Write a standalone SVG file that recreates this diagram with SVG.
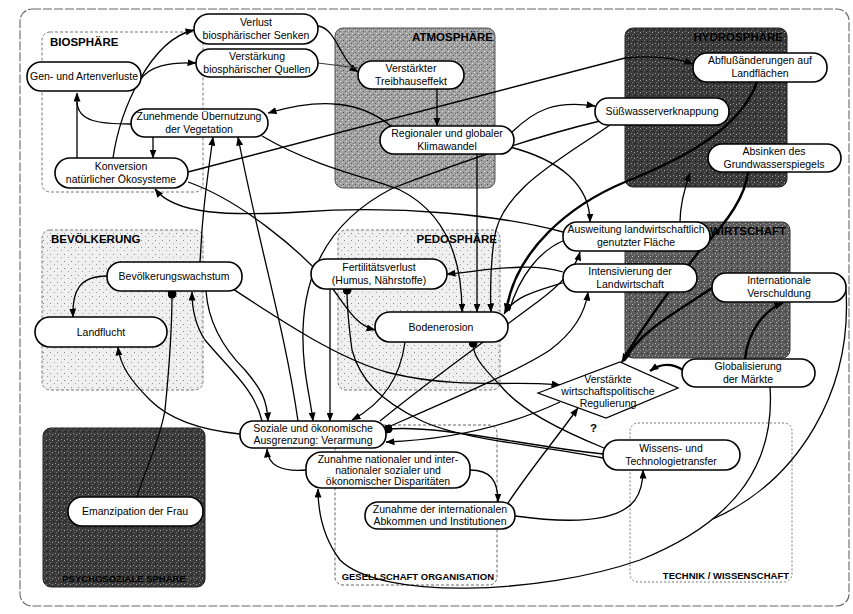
<svg xmlns="http://www.w3.org/2000/svg" width="853" height="614" viewBox="0 0 853 614">
<defs>
<style>
.node{fill:#fff;stroke:#000;stroke-width:1.6}
.t{font-family:"Liberation Sans",Arial,sans-serif;font-size:10.5px;fill:#000;text-anchor:middle}
.lbl{font-family:"Liberation Sans",Arial,sans-serif;font-size:11.5px;font-weight:bold;fill:#000}
.lbls{font-family:"Liberation Sans",Arial,sans-serif;font-size:9.5px;font-weight:bold;fill:#000}
.c{fill:none;stroke:#000;stroke-width:1.3}
.a{marker-end:url(#ah)}
.d{marker-end:url(#dot)}
.thick{stroke-width:2.4}
.thin{stroke-width:1;stroke:#333}
</style>
<marker id="ah" viewBox="0 0 9 7" refX="8.5" refY="3.5" markerWidth="9" markerHeight="7" markerUnits="userSpaceOnUse" orient="auto"><path d="M0,0 L9,3.5 L0,7 z" fill="#000"/></marker>
<marker id="dot" viewBox="0 0 10 10" refX="5" refY="5" markerWidth="9" markerHeight="9" markerUnits="userSpaceOnUse" orient="auto"><circle cx="5" cy="5" r="5" fill="#000"/></marker>
<pattern id="pLight" width="7" height="7" patternUnits="userSpaceOnUse"><rect width="7" height="7" fill="#efefef"/><rect x="1" y="2" width="1" height="1" fill="#8a8a8a"/><rect x="5" y="5" width="1" height="1" fill="#a0a0a0"/></pattern>
<pattern id="pAtm" width="6" height="6" patternUnits="userSpaceOnUse"><rect width="6" height="6" fill="#a2a2a2"/><rect x="0" y="0" width="1" height="1" fill="#e0e0e0"/><rect x="3" y="1" width="1" height="1" fill="#5a5a5a"/><rect x="1" y="4" width="1" height="1" fill="#505050"/><rect x="4" y="3" width="1" height="1" fill="#dcdcdc"/><rect x="5" y="5" width="1" height="1" fill="#707070"/></pattern>
<pattern id="pDark" width="6" height="6" patternUnits="userSpaceOnUse"><rect width="6" height="6" fill="#3a3a3a"/><rect x="1" y="1" width="1" height="1" fill="#8c8c8c"/><rect x="4" y="2" width="1" height="1" fill="#a8a8a8"/><rect x="2" y="4" width="1" height="1" fill="#777"/><rect x="5" y="5" width="1" height="1" fill="#1a1a1a"/></pattern>
<pattern id="pMid" width="6" height="6" patternUnits="userSpaceOnUse"><rect width="6" height="6" fill="#5a5a5a"/><rect x="1" y="1" width="1" height="1" fill="#b0b0b0"/><rect x="4" y="2" width="1" height="1" fill="#9a9a9a"/><rect x="2" y="4" width="1" height="1" fill="#c0c0c0"/><rect x="5" y="5" width="1" height="1" fill="#2a2a2a"/></pattern>
</defs>

<rect width="853" height="614" fill="#fff"/>
<rect x="20" y="9" width="829" height="597" rx="12" fill="none" stroke="#666" stroke-width="1.1" stroke-dasharray="9 2"/>

<g id="spheres">
<g id="biosphaere"><rect x="42" y="32" width="161" height="160" rx="8" fill="#fff" stroke="#777" stroke-width="1" stroke-dasharray="3 2"/><text class="lbl" x="50" y="46">BIOSPHÄRE</text></g>
<g id="atmosphaere"><rect x="335" y="28" width="160" height="160" rx="8" fill="url(#pAtm)" stroke="#555" stroke-width="1"/><text class="lbl" x="493" y="41" text-anchor="end">ATMOSPHÄRE</text></g>
<g id="hydrosphaere"><rect x="625" y="28" width="162" height="159" rx="8" fill="url(#pDark)" stroke="#222" stroke-width="1"/><text class="lbl" x="783" y="41" text-anchor="end" fill="#1e1e1e">HYDROSPHÄRE</text></g>
<g id="bevoelkerung"><rect x="42" y="230" width="161" height="160" rx="8" fill="url(#pLight)" stroke="#777" stroke-width="1" stroke-dasharray="3 2"/><text class="lbl" x="51" y="243">BEVÖLKERUNG</text></g>
<g id="pedosphaere"><rect x="338" y="230" width="162" height="160" rx="8" fill="url(#pLight)" stroke="#777" stroke-width="1" stroke-dasharray="3 2"/><text class="lbl" x="497" y="243" text-anchor="end">PEDOSPHÄRE</text></g>
<g id="wirtschaft"><rect x="625" y="222" width="165" height="136" rx="8" fill="url(#pMid)" stroke="#333" stroke-width="1"/><text class="lbl" x="786" y="235" text-anchor="end" fill="#1c1c1c">WIRTSCHAFT</text></g>
<g id="psychosozial"><rect x="43" y="428" width="162" height="159" rx="8" fill="url(#pDark)" stroke="#222" stroke-width="1"/><text class="lbls" x="124" y="582" text-anchor="middle" fill="#262626">PSYCHOSOZIALE SPHÄRE</text></g>
<g id="gesellschaft"><rect x="335" y="425" width="162" height="160" rx="8" fill="none" stroke="#666" stroke-width="1" stroke-dasharray="3 2"/><text class="lbls" x="494" y="580" text-anchor="end">GESELLSCHAFT ORGANISATION</text></g>
<g id="technik"><rect x="630" y="423" width="162" height="159" rx="8" fill="none" stroke="#777" stroke-width="1" stroke-dasharray="2 2"/><text class="lbls" x="789" y="579" text-anchor="end">TECHNIK / WISSENSCHAFT</text></g>
</g>

<g id="connectors">
<path class="c a" d="M77,158 L77,93"/>
<path class="c" d="M131,124 C100,124 78,122 77,102"/>
<path class="c a" d="M113,158 C120,110 150,40 194,30"/>
<path class="c a" d="M140,80 C150,66 168,62 196,63"/>
<path class="c a" d="M153,137 L153,158"/>
<path class="c a" d="M318,26 C336,28 340,60 358,72"/>
<path class="c thin" d="M318,63 L358,68"/>
<path class="c a" d="M437,89 L437,126"/>
<path class="c a" d="M392,127 C360,100 320,98 268,113"/>
<path class="c a" d="M512,132 C535,110 555,100 595,106"/>
<path class="c a" d="M188,172 L625,58 Q665,54 693,64"/>
<path class="c a" d="M510,147 C560,160 590,185 590,222"/>
<path class="c a" d="M477,154 L477,312"/>
<path class="c a" d="M262,136 C320,170 380,180 400,190 C440,210 462,250 462,312"/>
<path class="c a" d="M600,121 C520,140 440,170 393,188 C340,215 305,260 303,330 C302,370 310,395 313,421"/>
<path class="c a" d="M610,125 C560,160 500,190 494,240 C490,270 490,290 491,312"/>
<path class="c thick a" d="M757,82 C740,130 680,160 625,182 C570,205 515,250 506,312"/>
<path class="c a" d="M680,222 C680,205 684,190 690,173"/>
<path class="c thick a" d="M748,172 C745,200 720,230 700,250 C670,290 640,330 622,362"/>
<path class="c thick a" d="M712,288 C680,310 640,330 624,361"/>
<path class="c thick a" d="M683,370 C670,362 660,364 650,371"/>
<path class="c thick a" d="M745,359 C748,330 765,310 783,303"/>
<path class="c a" d="M563,232 C500,215 400,205 300,212 C230,216 175,215 155,189"/>
<path class="c a" d="M563,272 C530,262 490,270 447,274"/>
<path class="c a" d="M565,282 C540,290 515,295 504,314"/>
<path class="c" d="M565,240 C540,250 520,275 509,311"/>
<path class="c a" d="M107,276 C80,276 72,290 73,317"/>
<path class="c a" d="M200,262 L202,230 C205,190 210,160 213,137"/>
<path class="c a" d="M298,421 C285,330 260,250 238,137"/>
<path class="c d" d="M137,497 C145,470 160,440 165,410 C170,360 172,320 172,294"/>
<path class="c a" d="M262,421 C255,390 230,370 205,340 C195,325 192,310 192,292"/>
<path class="c a" d="M206,291 C208,320 220,345 245,370 C262,390 267,400 268,421"/>
<path class="c a" d="M188,182 C240,200 300,250 330,285 C345,305 355,325 375,330"/>
<path class="c a" d="M233,289 C280,320 340,360 390,373 C460,390 520,380 560,385"/>
<path class="c a" d="M330,289 L330,421"/>
<path class="c d" d="M603,458 C540,445 460,440 420,420 C380,400 360,380 352,350 C348,320 347,305 347,290"/>
<path class="c a" d="M405,342 C400,380 380,405 352,420"/>
<path class="c d" d="M604,448 C560,430 520,410 500,385 C480,365 473,355 473,343"/>
<path class="c d" d="M603,454 C520,445 440,425 388,429"/>
<path class="c a" d="M560,402 C500,430 440,440 386,442"/>
<path class="c a" d="M240,434 C200,430 170,420 150,400 C130,380 120,365 118,347"/>
<path class="c a" d="M306,470 C280,472 268,465 267,449"/>
<path class="c a" d="M770,387 C775,460 740,520 640,560 C540,595 380,600 340,560 C325,540 318,515 318,489"/>
<path class="c" d="M846,290 C852,390 800,480 713,519"/>
<path class="c a" d="M470,470 C490,470 498,480 498,502"/>
<path class="c a" d="M515,516 C580,525 620,520 635,500 C642,490 643,480 643,470"/>
<path class="c a" d="M508,503 C530,470 555,440 578,408"/>
<path class="c a" d="M380,421 C430,380 500,330 540,300 C560,285 575,270 580,252"/>
<path class="c a" d="M386,428 C450,400 520,370 550,350 C570,335 585,315 588,292"/>
</g>

<g id="n_verlust"><rect class="node" x="194" y="14" width="124" height="30" rx="15"/><text class="t" x="256" y="26">Verlust</text><text class="t" x="256" y="39">biosphärischer Senken</text></g>
<g id="n_verstaerkung"><rect class="node" x="196" y="49" width="122" height="28" rx="14"/><text class="t" x="257" y="60">Verstärkung</text><text class="t" x="257" y="73">biosphärischer Quellen</text></g>
<g id="n_gen"><rect class="node" x="27" y="62" width="114" height="29" rx="14"/><text class="t" x="84" y="80">Gen- und Artenverluste</text></g>
<g id="n_uebernutzung"><rect class="node" x="131" y="109" width="137" height="28" rx="14"/><text class="t" x="199" y="120">Zunehmende Übernutzung</text><text class="t" x="199" y="133">der Vegetation</text></g>
<g id="n_konversion"><rect class="node" x="55" y="158" width="133" height="30" rx="15"/><text class="t" x="121" y="170">Konversion</text><text class="t" x="121" y="183">natürlicher Ökosysteme</text></g>
<g id="n_treibhaus"><rect class="node" x="358" y="61" width="106" height="28" rx="14"/><text class="t" x="411" y="72">Verstärkter</text><text class="t" x="411" y="85">Treibhauseffekt</text></g>
<g id="n_klima"><rect class="node" x="380" y="126" width="134" height="28" rx="14"/><text class="t" x="447" y="137">Regionaler und globaler</text><text class="t" x="447" y="150">Klimawandel</text></g>
<g id="n_abfluss"><rect class="node" x="693" y="53" width="134" height="29" rx="14"/><text class="t" x="760" y="64">Abflußänderungen auf</text><text class="t" x="760" y="77">Landflächen</text></g>
<g id="n_suess"><rect class="node" x="595" y="98" width="134" height="27" rx="13"/><text class="t" x="662" y="115">Süßwasserverknappung</text></g>
<g id="n_absinken"><rect class="node" x="708" y="144" width="133" height="28" rx="14"/><text class="t" x="774" y="155">Absinken des</text><text class="t" x="774" y="168">Grundwasserspiegels</text></g>
<g id="n_bev"><rect class="node" x="107" y="262" width="135" height="29" rx="14"/><text class="t" x="174" y="280">Bevölkerungswachstum</text></g>
<g id="n_landflucht"><rect class="node" x="35" y="317" width="132" height="30" rx="15"/><text class="t" x="101" y="336">Landflucht</text></g>
<g id="n_fert"><rect class="node" x="311" y="259" width="136" height="30" rx="15"/><text class="t" x="379" y="271">Fertilitätsverlust</text><text class="t" x="379" y="284">(Humus, Nährstoffe)</text></g>
<g id="n_boden"><rect class="node" x="375" y="312" width="133" height="30" rx="15"/><text class="t" x="441" y="331">Bodenerosion</text></g>
<g id="n_ausweitung"><rect class="node" x="563" y="222" width="147" height="29" rx="14"/><text class="t" x="636" y="233">Ausweitung landwirtschaftlich</text><text class="t" x="636" y="246">genutzter Fläche</text></g>
<g id="n_intens"><rect class="node" x="563" y="264" width="134" height="28" rx="14"/><text class="t" x="630" y="275">Intensivierung der</text><text class="t" x="630" y="288">Landwirtschaft</text></g>
<g id="n_verschuldung"><rect class="node" x="712" y="273" width="134" height="29" rx="14"/><text class="t" x="779" y="284">Internationale</text><text class="t" x="779" y="297">Verschuldung</text></g>
<g id="n_global"><rect class="node" x="682" y="359" width="133" height="28" rx="14"/><text class="t" x="748" y="370">Globalisierung</text><text class="t" x="748" y="383">der Märkte</text></g>
<g id="n_regulierung"><polygon points="538,393 620,362 678,388 606,418" fill="#fff" stroke="#000" stroke-width="1.3"/><text class="t" x="608" y="383">Verstärkte</text><text class="t" x="608" y="395">wirtschaftspolitische</text><text class="t" x="608" y="407">Regulierung</text><text class="lbl" x="590" y="432" font-size="12">?</text></g>
<g id="n_soziale"><rect class="node" x="240" y="421" width="146" height="27" rx="13"/><text class="t" x="313" y="432">Soziale und ökonomische</text><text class="t" x="313" y="444">Ausgrenzung: Verarmung</text></g>
<g id="n_disp"><rect class="node" x="306" y="452" width="164" height="36" rx="16"/><text class="t" x="388" y="463">Zunahme nationaler und inter-</text><text class="t" x="388" y="474">nationaler sozialer und</text><text class="t" x="388" y="485">ökonomischer Disparitäten</text></g>
<g id="n_abkommen"><rect class="node" x="365" y="502" width="150" height="27" rx="13"/><text class="t" x="440" y="513">Zunahme der internationalen</text><text class="t" x="440" y="525">Abkommen und Institutionen</text></g>
<g id="n_wissens"><rect class="node" x="603" y="440" width="137" height="30" rx="15"/><text class="t" x="671" y="452">Wissens- und</text><text class="t" x="671" y="465">Technologietransfer</text></g>
<g id="n_emanz"><rect class="node" x="68" y="497" width="135" height="29" rx="14"/><text class="t" x="135" y="515">Emanzipation der Frau</text></g>
</svg>
